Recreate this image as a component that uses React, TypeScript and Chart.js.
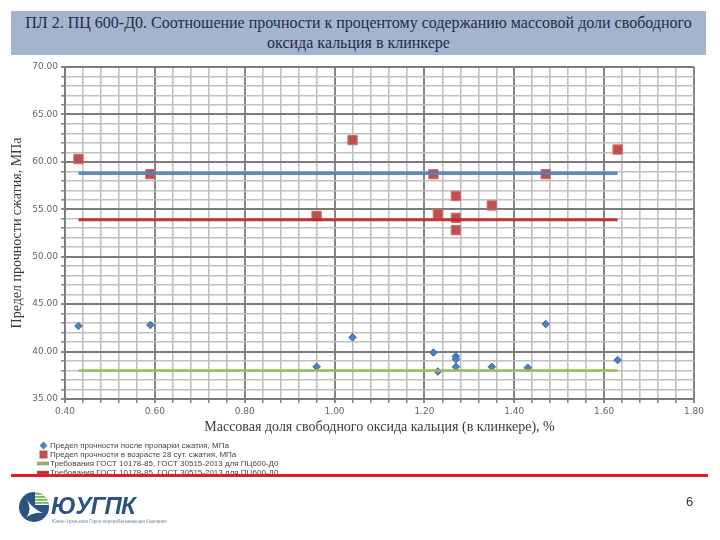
import React, { useEffect, useRef } from "react";
import { Chart, registerables } from "chart.js";

Chart.register(...registerables);

const titleLines = [
  "ПЛ 2. ПЦ 600-Д0. Соотношение прочности к процентому содержанию массовой доли свободного",
  "оксида кальция в клинкере",
];
const xAxisTitle = "Массовая доля свободного оксида кальция (в клинкере), %";
const yAxisTitle = "Предел прочности сжатия, МПа";

const steamX = [0.43, 0.59, 0.96, 1.04, 1.22, 1.23, 1.27, 1.27, 1.27, 1.35, 1.43, 1.47, 1.63];
const steamY = [42.7, 42.8, 38.4, 41.5, 39.9, 37.9, 39.5, 39.2, 38.4, 38.4, 38.3, 42.9, 39.1];

const age28X = [0.43, 0.59, 0.96, 1.04, 1.22, 1.23, 1.27, 1.27, 1.27, 1.35, 1.47, 1.63];
const age28Y = [60.3, 58.7, 54.3, 62.3, 58.7, 54.5, 56.4, 54.1, 52.8, 55.4, 58.7, 61.3];

const reqX = [0.43, 1.63];
const reqSteam = 38.0;
const req28a = 53.9;
const req28b = 58.8;

const seriesLabels = [
  "Предел прочности после пропарки сжатия, МПа",
  "Предел прочности в возрасте 28 сут. сжатия, МПа",
  "Требования ГОСТ 10178-85, ГОСТ 30515-2013 для ПЦ600-Д0",
  "Требования ГОСТ 10178-85, ГОСТ 30515-2013 для ПЦ600-Д0",
  "Требования ГОСТ 10178-85, ГОСТ 30515-2013 для ПЦ600-Д0",
];

const blue = "#4f81bd";
const red = "#c0504d";
const green = "#9bbb59";
const tagline = "Южно-Уральская Горно-перерабатывающая Компания";

const isMajorX = (v: number) => Math.abs(v / 0.2 - Math.round(v / 0.2)) < 1e-6;
const isMajorY = (v: number) => Math.abs(v / 5 - Math.round(v / 5)) < 1e-6;

export default function App() {
  const ref = useRef<HTMLCanvasElement | null>(null);

  useEffect(() => {
    if (!ref.current) return;
    const pts = (xs: number[], ys: number[]) => xs.map((x, i) => ({ x, y: ys[i] }));
    const line = (v: number) => reqX.map((x) => ({ x, y: v }));
    const chart = new Chart(ref.current, {
      type: "scatter",
      data: {
        datasets: [
          {
            label: seriesLabels[0],
            data: pts(steamX, steamY),
            pointStyle: "rectRot",
            pointRadius: 3.8,
            backgroundColor: blue,
            borderColor: "#3d6a9e",
            borderWidth: 1,
            order: 1,
          },
          {
            label: seriesLabels[1],
            data: pts(age28X, age28Y),
            pointStyle: "rect",
            pointRadius: 6.6,
            backgroundColor: red,
            borderColor: "#c9716e",
            borderWidth: 1,
            order: 1,
          },
          {
            label: seriesLabels[2],
            data: line(reqSteam),
            showLine: true,
            pointRadius: 0,
            borderColor: green,
            borderWidth: 2.5,
            order: 0,
          },
          {
            label: seriesLabels[3],
            data: line(req28a),
            showLine: true,
            pointRadius: 0,
            borderColor: "rgba(190,40,40,0.92)",
            borderWidth: 3,
            order: 0,
          },
          {
            label: seriesLabels[4],
            data: line(req28b),
            showLine: true,
            pointRadius: 0,
            borderColor: "rgba(79,129,189,0.9)",
            borderWidth: 3.5,
            order: 0,
          },
        ],
      },
      options: {
        animation: false,
        responsive: false,
        layout: { padding: { left: 8, top: 67, right: 26, bottom: 101 } },
        plugins: { legend: { display: false }, tooltip: { enabled: false } },
        scales: {
          x: {
            type: "linear",
            min: 0.4,
            max: 1.8,
            afterFit: (s: any) => {
              s.height = 40;
            },
            ticks: {
              stepSize: 0.04,
              autoSkip: false,
              maxRotation: 0,
              padding: 3,
              color: "#666",
              font: { family: "DejaVu Sans", size: 9 },
              callback: (v: any) => (isMajorX(Number(v)) ? Number(v).toFixed(2) : ""),
            },
            grid: {
              color: (c: any) => (c.tick && isMajorX(c.tick.value) ? "#858585" : "#c0c0c0"),
              lineWidth: (c: any) => (c.tick && isMajorX(c.tick.value) ? 2 : 1.6),
              tickLength: 4,
              tickColor: "#8a8a8a",
            },
            border: { color: "#7a7a7a", width: 1.5 },
            title: {
              display: true,
              text: xAxisTitle,
              color: "#3a3a3a",
              font: { family: "Liberation Serif", size: 14 },
              padding: { top: 2, bottom: 3 },
            },
          },
          y: {
            type: "linear",
            min: 35,
            max: 70,
            afterFit: (s: any) => {
              s.width = 57;
            },
            ticks: {
              stepSize: 1,
              autoSkip: false,
              padding: 3,
              color: "#666",
              font: { family: "DejaVu Sans", size: 9 },
              callback: (v: any) => (isMajorY(Number(v)) ? Number(v).toFixed(2) : ""),
            },
            grid: {
              color: (c: any) => (c.tick && isMajorY(c.tick.value) ? "#7c7c7c" : "#c0c0c0"),
              lineWidth: (c: any) => (c.tick && isMajorY(c.tick.value) ? 2 : 1.6),
              tickLength: 4,
              tickColor: "#8a8a8a",
            },
            border: { color: "#7a7a7a", width: 1.5 },
            title: {
              display: true,
              text: yAxisTitle,
              color: "#3a3a3a",
              font: { family: "Liberation Serif", size: 14 },
              padding: { top: 1, bottom: 2 },
            },
          },
        },
      },
    });
    return () => chart.destroy();
  }, []);

  const legendMarkers = [
    <svg width="9" height="9" key="m0">
      <polygon points="4.5,0.5 8.5,4.5 4.5,8.5 0.5,4.5" fill={blue} />
    </svg>,
    <svg width="9" height="9" key="m1">
      <rect x="0.5" y="0.5" width="8" height="8" fill={red} />
    </svg>,
    <svg width="12" height="9" key="m2">
      <rect x="0" y="3" width="12" height="3" fill={green} stroke="#8a8a8a" strokeWidth="0.6" />
    </svg>,
    <svg width="12" height="9" key="m3">
      <rect x="0" y="3" width="12" height="3" fill="#be2828" stroke="#8a8a8a" strokeWidth="0.6" />
    </svg>,
  ];

  return (
    <div style={{ position: "absolute", left: 0, top: 0, width: 720, height: 540, background: "#fff", overflow: "hidden" }}>
      <canvas ref={ref} width={720} height={540} style={{ position: "absolute", left: 0, top: 0, width: 720, height: 540 }} />
      <div
        style={{
          position: "absolute",
          left: 11,
          top: 11,
          width: 695,
          height: 44,
          background: "#a5b4cd",
          color: "#1e2b4a",
          fontFamily: "Liberation Serif",
          fontSize: 16,
          lineHeight: "20px",
          textAlign: "center",
          paddingTop: 2,
          boxSizing: "border-box",
          whiteSpace: "nowrap",
        }}
      >
        {titleLines.map((t, i) => (
          <div key={i}>{t}</div>
        ))}
      </div>
      <div style={{ position: "absolute", left: 36, top: 441, fontFamily: "Liberation Sans", fontSize: 8, color: "#444", lineHeight: "9px" }}>
        {legendMarkers.map((m, i) => (
          <div key={i} style={{ display: "flex", alignItems: "center", height: 9, whiteSpace: "nowrap" }}>
            <div style={{ width: 14, display: "flex", justifyContent: "center" }}>{m}</div>
            <span>{seriesLabels[i]}</span>
          </div>
        ))}
      </div>
      <div style={{ position: "absolute", left: 11, top: 474, width: 697, height: 3, background: "#e01f24" }} />
      <svg style={{ position: "absolute", left: 18, top: 491 }} width="32" height="32" viewBox="0 0 32 32">
        <defs>
          <clipPath id="cc">
            <circle cx="16" cy="16" r="15" />
          </clipPath>
        </defs>
        <circle cx="16" cy="16" r="15" fill="#2b5384" />
        <g clipPath="url(#cc)">
          <rect x="17" y="0" width="16" height="14" fill="#fff" />
          {[2, 5, 8, 11].map((y) => (
            <rect key={y} x="17" y={y} width="16" height="1.8" fill="#6dbb5a" />
          ))}
        </g>
        <path d="M9 9 Q14 18 9 26 Q16 21 25 22 Q15 18 9 9 Z" fill="#fff" />
      </svg>
      <div
        style={{
          position: "absolute",
          left: 51,
          top: 492,
          fontFamily: "Liberation Sans",
          fontWeight: "bold",
          fontStyle: "italic",
          fontSize: 24,
          color: "#2b5384",
          letterSpacing: -0.8,
          lineHeight: "28px",
        }}
      >
        ЮУГПК
      </div>
      <div style={{ position: "absolute", left: 52, top: 519, fontFamily: "Liberation Sans", fontSize: 4.5, color: "#7a8aa0", whiteSpace: "nowrap" }}>
        {tagline}
      </div>
      <div style={{ position: "absolute", left: 686, top: 494, fontFamily: "Liberation Sans", fontSize: 13, color: "#333" }}>6</div>
    </div>
  );
}
